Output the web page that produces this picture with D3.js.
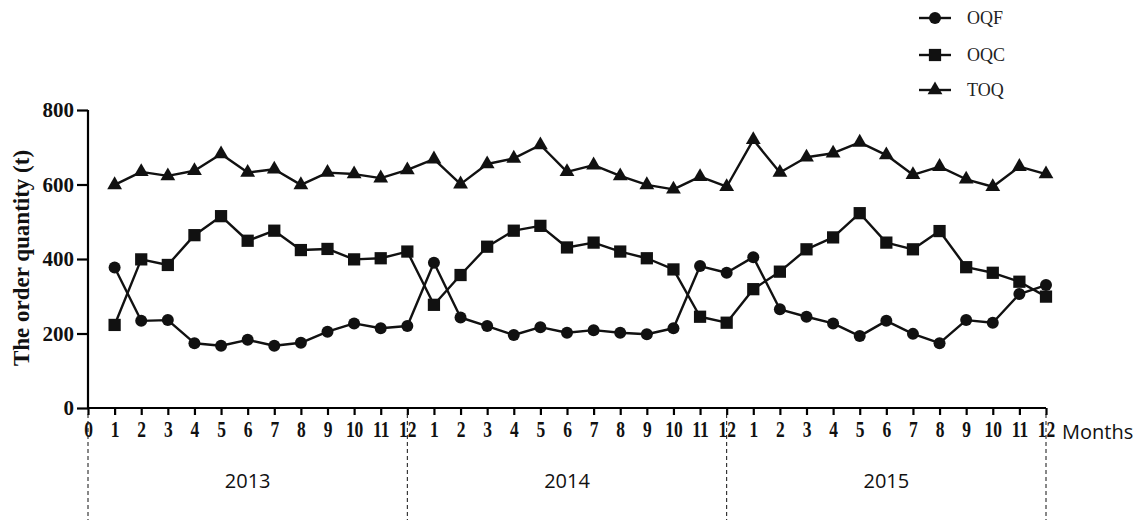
<!DOCTYPE html>
<html>
<head>
<meta charset="utf-8">
<script src="https://cdn.jsdelivr.net/npm/d3@7"></script>
<style>
  body { margin: 0; background: #fff; }
  svg { display: block; }
</style>
</head>
<body>
<div id="chart"></div>
<script>
// months 1..12 for three years, x index 1..36
const years = ["2013", "2014", "2015"];
const monthTicks = d3.range(0, 37);
const yTicks = [0, 200, 400, 600, 800];

const oqf = [377, 234, 236, 174, 167, 183, 167, 175, 205, 227, 214, 220,
             390, 243, 220, 196, 217, 202, 209, 202, 198, 214, 381, 363,
             405, 265, 245, 227, 193, 234, 199, 174, 236, 229, 306, 330];
const oqc = [223, 399, 384, 464, 515, 449, 476, 424, 427, 399, 402, 420,
             277, 357, 433, 476, 489, 431, 444, 420, 402, 372, 245, 229,
             319, 366, 426, 458, 523, 444, 426, 475, 378, 363, 339, 299];
const toq = [599, 634, 623, 637, 682, 632, 641, 599, 632, 628, 617, 639,
             668, 601, 655, 670, 706, 634, 652, 623, 599, 587, 621, 594,
             720, 632, 673, 684, 713, 679, 626, 648, 614, 594, 648, 628];

const seriesList = [
  { name: "OQF", values: oqf, shape: "circle" },
  { name: "OQC", values: oqc, shape: "square" },
  { name: "TOQ", values: toq, shape: "triangle" }
];

const width = 1142, height = 525;
const svg = d3.select("#chart").append("svg")
  .attr("width", width)
  .attr("height", height);

const x = d3.scaleLinear().domain([0, 36]).range([88, 1046]);
const y = d3.scaleLinear().domain([0, 800]).range([408, 110]);

const serif = "'Liberation Serif', 'Times New Roman', serif";
const sans = "'Open Sans', 'Liberation Sans', sans-serif";

// marker drawing
function symbolFor(shape) {
  if (shape === "circle") return d3.symbol().type(d3.symbolCircle).size(Math.PI * 36)();
  if (shape === "square") return d3.symbol().type(d3.symbolSquare).size(150)();
  return d3.symbol().type(d3.symbolTriangle).size(95)();
}

// y axis
const yAxis = svg.append("g")
  .attr("transform", `translate(${x(0)},0)`)
  .call(d3.axisLeft(y).tickValues(yTicks).tickSize(11).tickPadding(3));
yAxis.select(".domain").attr("stroke-width", 2.2).attr("d", `M-0,${y(800)}V${y(0)}`);
yAxis.selectAll(".tick line").attr("stroke-width", 2.2);
yAxis.selectAll("text")
  .attr("font-family", serif).attr("font-weight", "bold")
  .attr("font-size", 21).attr("fill", "#111");

// x axis - tall narrow labels like the original
const xAxis = svg.append("g")
  .attr("transform", `translate(0,${y(0)})`)
  .call(d3.axisBottom(x).tickValues(monthTicks)
    .tickFormat(d => d === 0 ? "0" : String(((d - 1) % 12) + 1))
    .tickSize(7).tickPadding(6));
xAxis.select(".domain").attr("stroke-width", 2.2).attr("d", `M${x(0)},0H${x(36)}`);
xAxis.selectAll(".tick line").attr("stroke-width", 2.2);
xAxis.selectAll("text")
  .attr("font-family", serif).attr("font-weight", "bold")
  .attr("font-size", 23).attr("fill", "#111")
  .attr("transform", "scale(0.76,1)");

// y title
svg.append("text")
  .attr("transform", `translate(29,${258}) rotate(-90)`)
  .attr("text-anchor", "middle")
  .attr("font-family", serif).attr("font-weight", "bold")
  .attr("font-size", 23).attr("fill", "#111")
  .text("The order quantity (t)");

// Months label
svg.append("text")
  .attr("x", 1062).attr("y", 439)
  .attr("font-family", sans).attr("font-size", 20).attr("fill", "#111")
  .text("Months");

// year separators
const gYears = svg.append("g");
gYears.selectAll("line")
  .data([0, 12, 24, 36])
  .join("line")
  .attr("x1", d => x(d)).attr("x2", d => x(d))
  .attr("y1", y(0) + 6).attr("y2", 520)
  .attr("stroke", "#111").attr("stroke-width", 1)
  .attr("stroke-dasharray", "4,3");
gYears.selectAll("text")
  .data(years)
  .join("text")
  .attr("x", (d, i) => (x(i * 12) + x(i * 12 + 12)) / 2)
  .attr("y", 488)
  .attr("text-anchor", "middle")
  .attr("font-family", sans).attr("font-size", 20).attr("fill", "#111")
  .text(d => d);

// series lines and markers
const line = d3.line().x((d, i) => x(i + 1)).y(d => y(d));
seriesList.forEach(s => {
  svg.append("path")
    .datum(s.values)
    .attr("d", line)
    .attr("fill", "none")
    .attr("stroke", "#111")
    .attr("stroke-width", 2.4)
    .attr("stroke-linejoin", "round");
  svg.append("g").selectAll("path")
    .data(s.values)
    .join("path")
    .attr("transform", (d, i) => `translate(${x(i + 1)},${y(d)})`)
    .attr("d", symbolFor(s.shape))
    .attr("fill", "#111");
});

// legend
const legend = svg.append("g");
const legendY = [18, 55, 90];
seriesList.forEach((s, i) => {
  const g = legend.append("g").attr("transform", `translate(935,${legendY[i]})`);
  g.append("line").attr("x1", -16).attr("x2", 16)
    .attr("stroke", "#111").attr("stroke-width", 2.4);
  g.append("path").attr("d", symbolFor(s.shape)).attr("fill", "#111");
  g.append("text")
    .attr("x", 32).attr("y", 6)
    .attr("font-family", serif).attr("font-size", 18).attr("fill", "#222")
    .text(s.name);
});
</script>
</body>
</html>
